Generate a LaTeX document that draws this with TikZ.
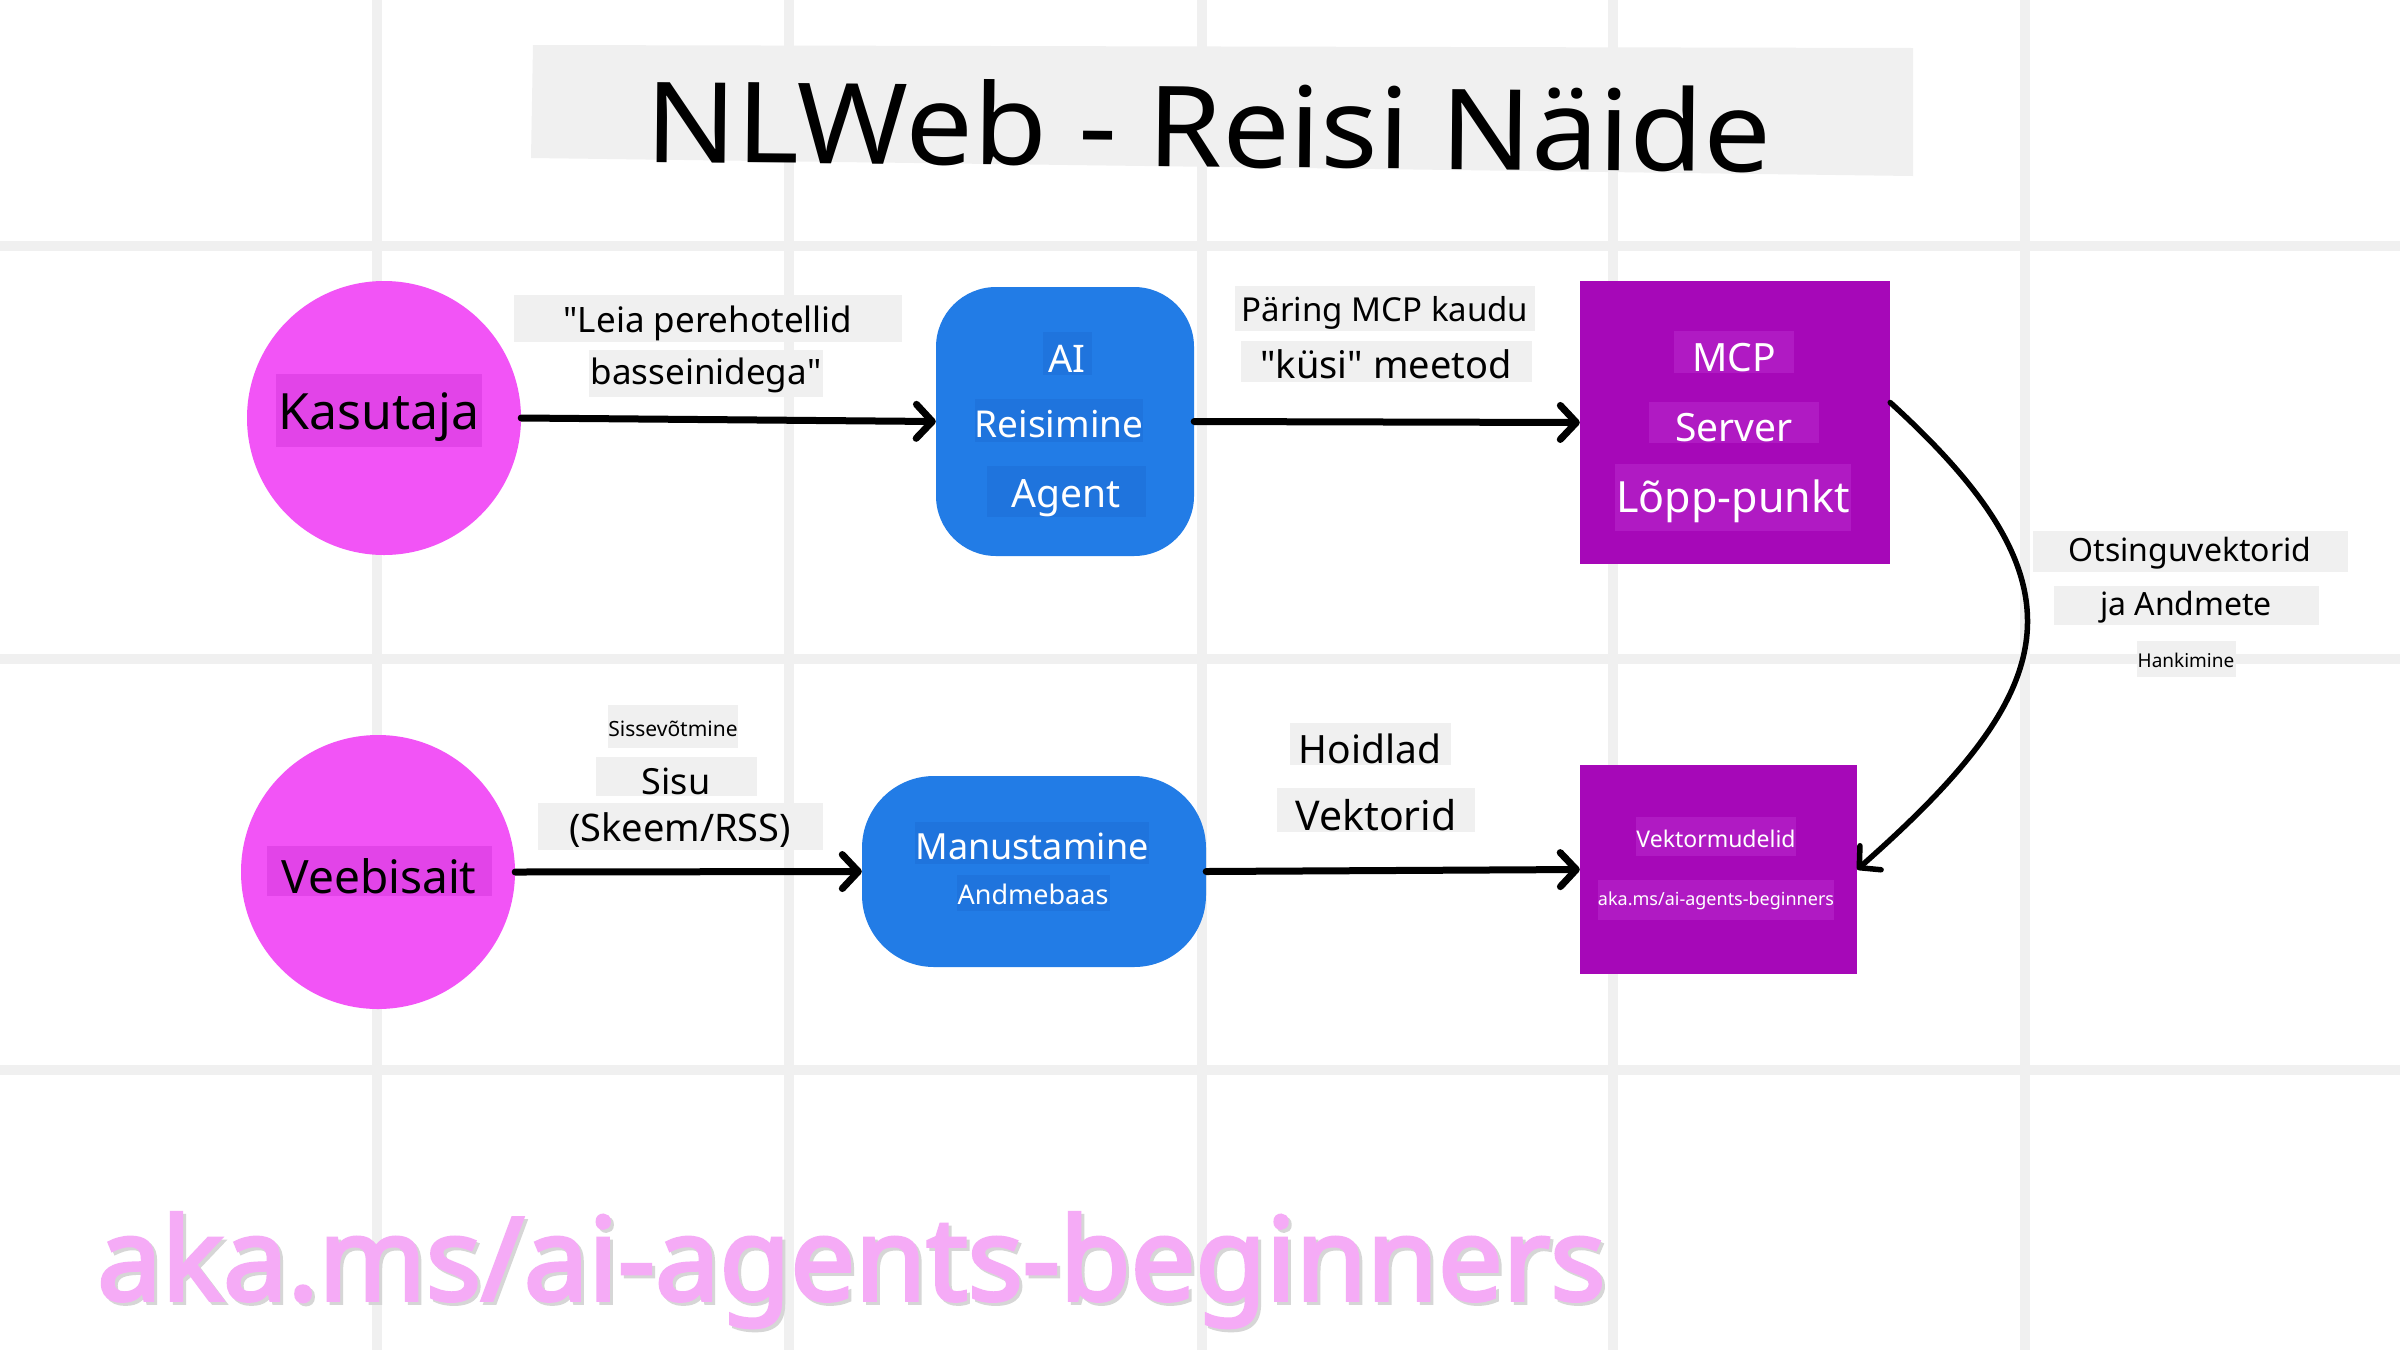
\documentclass[tikz,border=0pt]{standalone}
\usepackage{fontspec}
\setmainfont{Noto Sans}
\newfontfamily\footfont{Noto Sans}[FakeBold=3]
\usetikzlibrary{arrows.meta}
\newcommand\fsz[1]{\fontsize{#1pt}{#1pt}\selectfont}
\definecolor{gridgray}{HTML}{F0F0F0}
\definecolor{boxgray}{HTML}{F0F0F0}
\definecolor{pinkc}{HTML}{F254F6}
\definecolor{pinklbl}{HTML}{E244E8}
\definecolor{bluec}{HTML}{227CE6}
\definecolor{bluelbl}{HTML}{1F74DD}
\definecolor{purplec}{HTML}{A608B8}
\definecolor{purplelbl}{HTML}{B01AC3}
\definecolor{akapink}{HTML}{F5ABF6}
\definecolor{akashadow}{HTML}{D6D6D6}
\begin{document}
\begin{tikzpicture}[x=1pt,y=-1pt,
  gridline/.style={draw=gridgray, line width=10pt},
  lbl/.style 2 args={fill=boxgray, text=black, font=\fsz{#1}, inner sep=0pt,
     text height={(0.52+#2)*#1pt}, text depth={(0.52-#2)*#1pt}},
  wlbl/.style 2 args={lbl={#1}{#2}, text=white},
  conn/.style={line width=7pt, line cap=round,
     -{Straight Barb[length=16pt,width=34pt,line cap=round,line join=round]}},
  curvedconn/.style={line width=5.5pt, line cap=round,
     -{Straight Barb[length=15pt,width=32pt,line cap=round,line join=round]}},
  person/.style={circle, fill=pinkc, minimum size=274pt, inner sep=0pt},
  bluebox/.style={rectangle, rounded corners=#1, fill=bluec, inner sep=0pt},
  purplebox/.style={rectangle, fill=purplec, inner sep=0pt},
  footerstyle/.style={anchor=base west, inner sep=0pt, font=\fsz{115}\footfont}
]
\useasboundingbox (0,0) rectangle (2400,1350);
\fill[white] (0,0) rectangle (2400,1350);

% grid
\foreach \gx in {377,789,1202,1613,2025}
  \draw[gridline] (\gx,0) -- (\gx,1350);
\foreach \gy in {246,659,1070}
  \draw[gridline] (0,\gy) -- (2400,\gy);

% title
\fill[boxgray] (533,45) -- (1913,48) -- (1913,176) -- (531,158) -- cycle;
\begin{scope}[shift={(1208,167)}, rotate=-0.5, xscale=1.07]
  \node[transform shape, anchor=base, inner sep=0pt, font=\fsz{112}] (title) at (0,0) {NLWeb - Reisi Näide};
\end{scope}

% shapes
\node[person] (kas) at (384,418) {};
\node[person] (web) at (378,872) {};
\node[bluebox=60pt, minimum width=258pt, minimum height=269pt] (ai) at (1065,421.5) {};
\node[bluebox=72pt, minimum width=344pt, minimum height=191pt] (manu) at (1034,871.5) {};
\node[purplebox, minimum width=310pt, minimum height=283pt] (mcp) at (1735,422.5) {};
\node[purplebox, minimum width=277pt, minimum height=209pt] (vec) at (1718.5,869.5) {};

% texts in shapes
\node[lbl={50}{0.38}, fill=pinklbl, minimum width=206pt, minimum height=73pt] (kast) at (379,410) {Kasutaja};
\node[lbl={46}{0.48}, fill=pinklbl, minimum width=225pt, minimum height=50pt] (webt) at (379,871) {Veebisait};

\node[wlbl={38}{0.5}, fill=bluelbl, minimum width=49pt, minimum height=43pt] (ai1) at (1067,353) {AI};
\node[wlbl={37}{0.47}, fill=bluelbl, minimum width=168pt, minimum height=43pt] (ai2) at (1059,420) {Reisimine};
\node[wlbl={39}{0.42}, fill=bluelbl, minimum width=159pt, minimum height=51pt] (ai3) at (1066,491) {Agent};

\node[wlbl={36}{0.47}, fill=bluelbl, minimum width=233pt, minimum height=42pt] (manu1) at (1032,843) {Manustamine};
\node[wlbl={27}{0.44}, fill=bluelbl, minimum width=153pt, minimum height=36pt] (manu2) at (1033,893) {Andmebaas};

\node[wlbl={39}{0.49}, fill=purplelbl, minimum width=120pt, minimum height=42pt] (mcp1) at (1734,352) {MCP};
\node[wlbl={39}{0.49}, fill=purplelbl, minimum width=170pt, minimum height=41pt] (mcp2) at (1734,422) {Server};
\node[wlbl={43}{0.37}, fill=purplelbl, minimum width=236pt, minimum height=67pt] (mcp3) at (1733,497) {Lõpp-punkt};

\node[wlbl={23}{0.48}, fill=purplelbl, minimum width=156pt, minimum height=39pt] (vec1) at (1716,836) {Vektormudelid};
\node[wlbl={18}{0.33}, fill=purplelbl, minimum width=235pt, minimum height=40pt] (vec2) at (1716,900) {aka.ms/ai-agents-beginners};

% connectors
\draw[conn] (kas.east) -- (ai.west);
\draw[conn] (ai.east) -- (mcp.west);
\draw[conn] (web.east) -- (manu.west);
\draw[conn] (manu.east) -- (vec.west);
\draw[curvedconn] ([yshift=20pt]mcp.east) .. controls (2092,586) and (2062,689) .. (vec.east);

% connector labels
\node[lbl={35}{0.40}, minimum width=388pt, minimum height=47pt] (l1a) at (708,318) {\textquotedbl Leia perehotellid};
\node[lbl={35}{0.34}, minimum width=234pt, minimum height=47pt] (l1b) at (706,373) {basseinidega\textquotedbl};

\node[lbl={33}{0.42}, minimum width=300pt, minimum height=45pt] (l2a) at (1385,308) {Päring MCP kaudu};
\node[lbl={38}{0.45}, minimum width=291pt, minimum height=41pt] (l2b) at (1386,361) {\textquotedbl küsi\textquotedbl\ meetod};

\node[lbl={32}{0.34}, minimum width=315pt, minimum height=41pt] (l3a) at (2190,551) {Otsinguvektorid};
\node[lbl={32}{0.34}, minimum width=265pt, minimum height=39pt] (l3b) at (2186,605) {ja Andmete};
\node[lbl={19}{0.47}, minimum width=99pt, minimum height=36pt] (l3c) at (2186,659) {Hankimine};

\node[lbl={21}{0.48}, minimum width=130pt, minimum height=43pt] (l4a) at (673,726) {Sissevõtmine};
\node[lbl={36}{0.50}, minimum width=161pt, minimum height=39pt] (l4b) at (676,776) {Sisu};
\node[lbl={38}{0.42}, minimum width=285pt, minimum height=47pt] (l4c) at (680,826) {(Skeem/RSS)};

\node[lbl={39}{0.50}, minimum width=161pt, minimum height=42pt] (l5a) at (1370,744) {Hoidlad};
\node[lbl={41}{0.50}, minimum width=198pt, minimum height=44pt] (l5b) at (1376,810) {Vektorid};

% footer with soft shadow
\node[footerstyle, text=akashadow] (footershadow) at (100,1303) {aka.ms/ai-agents-beginners};
\node[footerstyle, text=akapink] (footer) at (97,1300) {aka.ms/ai-agents-beginners};
\end{tikzpicture}
\end{document}
